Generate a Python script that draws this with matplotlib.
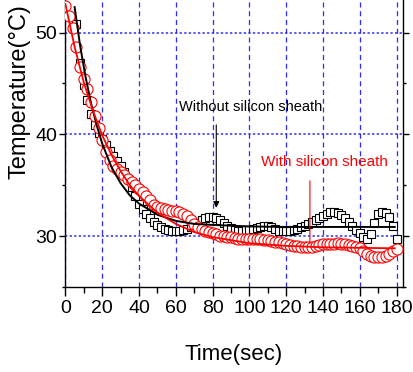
import numpy as np
import matplotlib
matplotlib.use("Agg")
import matplotlib.pyplot as plt
from matplotlib.ticker import MultipleLocator

plt.rcParams['font.family'] = ['Liberation Sans', 'DejaVu Sans']

# sampled every 2 s
t = np.arange(0, 182, 2)

temp_bare = [59.0, 56.5, 53.8, 50.8, 47.0, 44.8, 43.4, 42.0, 40.9, 40.1,
             39.5, 39.0, 38.4, 37.9, 37.4, 36.9, 36.3, 35.6, 34.8, 33.9,
             33.2, 32.7, 32.2, 31.8, 31.4, 31.1, 30.9, 30.7, 30.6, 30.5,
             30.5, 30.5, 30.6, 30.7, 30.9, 31.1, 31.3, 31.6, 31.8, 31.9,
             31.9, 31.8, 31.6, 31.3, 31.0, 30.8, 30.6, 30.5, 30.5, 30.6,
             30.6, 30.7, 30.8, 30.9, 31.0, 31.0, 30.9, 30.7, 30.5, 30.5,
             30.5, 30.5, 30.6, 30.7, 30.9, 31.0, 31.2, 31.4, 31.6, 31.8,
             32.0, 32.2, 32.4, 32.4, 32.3, 32.1, 31.8, 31.4, 31.0, 30.6,
             30.3, 29.9, 29.7, 30.2, 31.3, 32.2, 32.4, 32.3, 31.9, 31.0,
             29.7]

temp_sheath = [52.6, 51.6, 50.4, 48.6, 46.6, 45.4, 44.5, 43.2, 41.8, 40.6,
               39.4, 38.3, 37.5, 36.9, 36.6, 36.3, 36.0, 35.6, 35.3, 35.0,
               34.6, 34.3, 33.9, 33.5, 33.1, 32.9, 32.8, 32.7, 32.6, 32.5,
               32.5, 32.4, 32.2, 32.0, 31.6, 31.2, 30.9, 30.7, 30.5, 30.4,
               30.3, 30.2, 30.0, 30.0, 29.9, 29.9, 29.8, 29.7, 29.7, 29.7,
               29.7, 29.7, 29.7, 29.7, 29.6, 29.6, 29.5, 29.4, 29.4, 29.3,
               29.2, 29.1, 29.0, 29.0, 28.9, 28.9, 28.9, 28.9, 29.0, 29.1,
               29.2, 29.2, 29.2, 29.2, 29.3, 29.2, 29.2, 29.1, 29.0, 28.9,
               28.8, 28.5, 28.2, 28.0, 27.9, 27.9, 27.9, 28.0, 28.2, 28.5,
               28.7]

# fitted decay curves
fit_t_bare = [5, 8, 11, 14, 17, 20, 25, 30, 35, 40, 50, 60, 70, 80, 100, 120, 150, 179]
fit_bare = [52.5, 48.7, 45.6, 43.0, 40.9, 39.1, 36.8, 35.2, 34.0, 33.2,
            32.1, 31.5, 31.2, 31.1, 30.95, 30.9, 30.9, 30.9]

fit_t_sheath = [0, 5, 10, 15, 20, 25, 30, 35, 40, 50, 60, 70, 80, 100, 120, 140, 160, 179]
fit_sheath = [52.8, 48.6, 45.1, 42.3, 39.9, 38.0, 36.4, 35.0, 33.95, 32.3,
              31.2, 30.4, 29.9, 29.3, 29.04, 28.9, 28.85, 28.8]

fig = plt.figure(figsize=(4.14, 3.72), dpi=100)
ax = fig.add_axes([0.158, 0.2285, 0.815, 0.7715])

ax.plot(t, temp_bare, ls='none', marker='s', ms=6, mfc='white', mec='black',
        mew=0.8, zorder=3)
ax.plot(t, temp_sheath, ls='none', marker='o', ms=8, mfc='white', mec='red',
        mew=0.8, zorder=4)
ax.plot(fit_t_bare, fit_bare, color='black', lw=1.4, zorder=5)
ax.plot(fit_t_sheath, fit_sheath, color='red', lw=1.3, zorder=5)

ax.set_xlim(0, 183.4)
ax.set_ylim(25, 53.2)
ax.xaxis.set_major_locator(MultipleLocator(20))
ax.xaxis.set_minor_locator(MultipleLocator(10))
ax.yaxis.set_major_locator(MultipleLocator(10))
ax.yaxis.set_minor_locator(MultipleLocator(5))

ax.grid(axis='x', which='major', color='#2a2aff', ls=(0, (4, 3)), lw=0.9)
ax.grid(axis='y', which='major', color='#2a2aff', ls=(0, (1.5, 1.5)), lw=1.1)

ax.spines['top'].set_visible(False)
for s in ('left', 'bottom', 'right'):
    ax.spines[s].set_linewidth(1.0)
ax.tick_params(axis='both', which='major', direction='out', labelsize=14, pad=3)
ax.tick_params(axis='x', which='major', length=6.5, width=1.0)
ax.tick_params(axis='x', which='minor', length=4, width=1.0)
ax.tick_params(axis='y', which='major', length=4, width=1.0, right=True, pad=2)
ax.tick_params(axis='y', which='minor', length=2.5, width=1.0, right=True)

ax.set_xlabel('Time(sec)', fontsize=16, labelpad=19)
ax.set_ylabel('Temperature(°C)', fontsize=17)
ax.yaxis.set_label_coords(-0.102, 0.68)

ax.text(100.8, 42.7, 'Without silicon sheath', color='black', fontsize=10.5,
        ha='center', va='center', zorder=6)
ax.annotate('', xy=(82, 32.5), xytext=(82, 41.2),
            arrowprops=dict(arrowstyle='-|>', color='black', lw=0.8,
                            mutation_scale=9), zorder=6)

ax.text(141, 37.3, 'With silicon sheath', color='red', fontsize=11,
        ha='center', va='center', zorder=6)
ax.annotate('', xy=(132.9, 29.0), xytext=(132.9, 35.7),
            arrowprops=dict(arrowstyle='-', color='red', lw=0.8), zorder=6)

fig.savefig('out.png', dpi=100)
